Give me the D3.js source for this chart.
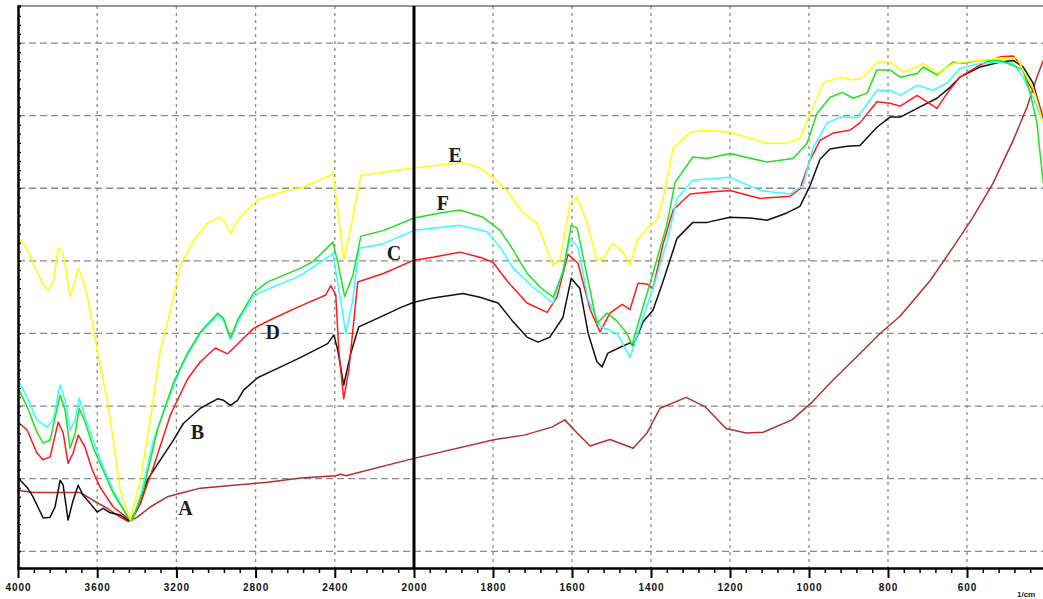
<!DOCTYPE html>
<html>
<head>
<meta charset="utf-8">
<script src="https://cdn.jsdelivr.net/npm/d3@7"></script>
<style>
  html, body { margin: 0; padding: 0; background: #fff; }
  svg { display: block; }
</style>
</head>
<body>
<div id="chart"></div>
<script>
'use strict';

// wavenumber (1/cm) vs transmittance
var seriesA = [[4000,18.4],[3924,18.1],[3838,18.1],[3752,18.1],[3686,18.1],[3620,17.0],[3549,15.9],[3484,14.7],[3443,14.1],[3397,14.7],[3332,16.1],[3246,17.5],[3165,18.1],[3079,18.7],[2911,19.1],[2739,19.5],[2572,20.1],[2395,20.4],[2370,20.6],[2344,20.4],[2000,22.8],[1795,25.4],[1721,26.0],[1651,27.1],[1618,28.1],[1587,26.3],[1554,24.5],[1504,25.4],[1445,24.2],[1410,26.3],[1377,29.7],[1311,31.2],[1263,29.9],[1210,26.9],[1159,26.3],[1116,26.4],[1043,28.1],[995,30.4],[939,33.6],[888,36.3],[820,40.0],[769,42.4],[693,47.3],[635,51.9],[585,56.0],[534,60.7],[483,66.6],[448,71.2],[423,75.3],[407,77.6]]

var seriesB = [[4000,20.1],[3954,18.8],[3924,17.5],[3873,14.6],[3838,14.7],[3813,16.1],[3787,19.8],[3772,19.1],[3747,14.3],[3722,17.0],[3696,19.1],[3671,17.7],[3635,16.6],[3600,15.4],[3570,15.9],[3534,15.3],[3484,15.0],[3443,14.3],[3418,14.7],[3382,16.6],[3347,19.8],[3281,22.6],[3215,25.3],[3165,27.6],[3079,29.7],[2992,31.0],[2962,30.8],[2927,30.1],[2891,30.8],[2861,32.2],[2790,33.9],[2689,35.2],[2572,36.7],[2436,38.6],[2405,39.8],[2385,37.7],[2355,32.9],[2319,37.3],[2279,40.9],[2152,42.5],[2066,43.6],[2000,44.3],[1952,44.9],[1876,45.5],[1833,45.0],[1787,44.2],[1749,41.6],[1714,39.5],[1686,38.8],[1656,39.5],[1623,42.2],[1602,47.6],[1580,46.2],[1559,40.0],[1537,36.1],[1524,35.4],[1509,37.3],[1478,38.1],[1453,38.7],[1445,38.3],[1420,41.6],[1395,43.2],[1370,47.1],[1334,53.1],[1294,55.3],[1258,55.3],[1200,56.0],[1149,55.9],[1106,55.6],[1056,56.6],[1023,57.5],[997,60.4],[972,64.0],[947,65.4],[904,65.8],[871,65.9],[828,68.4],[795,69.8],[769,69.8],[719,71.2],[676,72.4],[643,73.9],[618,75.3],[567,76.7],[516,77.4],[483,77.6],[458,76.7],[433,74.5],[407,69.4]]

var seriesC = [[4000,33.6],[3954,31.2],[3904,28.1],[3853,27.1],[3823,28.1],[3787,32.9],[3762,30.8],[3737,26.7],[3711,28.1],[3691,31.1],[3661,28.5],[3620,25.3],[3585,22.6],[3519,18.4],[3443,14.7],[3423,14.3],[3382,17.5],[3316,25.3],[3246,30.6],[3165,36.0],[3079,40.0],[2992,42.5],[2962,41.8],[2927,39.1],[2886,41.8],[2810,45.1],[2790,45.5],[2572,48.0],[2420,50.8],[2410,51.1],[2385,46.9],[2344,40.0],[2309,44.6],[2279,51.7],[2152,52.4],[2000,54.2],[1884,54.9],[1815,54.0],[1782,51.9],[1749,49.0],[1699,46.4],[1648,44.2],[1623,48.7],[1605,53.0],[1585,51.9],[1559,44.6],[1529,41.0],[1486,40.0],[1453,36.7],[1428,40.9],[1395,46.2],[1359,52.8],[1334,58.6],[1294,61.1],[1200,61.5],[1124,59.7],[1048,59.2],[1015,60.4],[990,65.5],[954,69.0],[921,69.8],[878,69.7],[828,73.5],[795,73.5],[769,72.8],[726,74.2],[686,73.5],[650,74.5],[618,76.5],[567,77.2],[516,77.4],[483,77.2],[458,75.3],[433,72.5],[407,69.0]]

var seriesD = [[4000,27.8],[3954,26.7],[3904,23.5],[3873,22.6],[3838,23.0],[3797,27.8],[3772,26.3],[3747,22.1],[3722,23.5],[3696,26.0],[3661,24.3],[3625,21.2],[3585,18.8],[3519,16.1],[3433,14.3],[3382,16.6],[3316,21.6],[3230,28.8],[3144,33.7],[3079,36.1],[3003,38.0],[2942,37.2],[2911,38.0],[2810,40.7],[2709,42.1],[2572,43.8],[2446,45.3],[2420,46.6],[2395,45.3],[2380,37.7],[2355,31.0],[2329,35.0],[2284,47.1],[2152,48.3],[2000,50.1],[1952,50.5],[1884,51.2],[1833,50.5],[1800,49.8],[1765,47.3],[1714,44.2],[1663,42.9],[1638,45.0],[1610,50.9],[1585,49.7],[1554,43.3],[1529,40.2],[1504,42.8],[1473,44.0],[1453,43.3],[1433,46.9],[1410,46.8],[1395,46.2],[1370,52.2],[1344,57.0],[1301,59.2],[1251,59.5],[1200,59.7],[1124,58.6],[1048,58.9],[1023,59.9],[997,63.9],[972,66.6],[939,67.6],[896,68.0],[871,69.0],[828,71.9],[795,71.7],[769,71.3],[726,72.8],[701,71.9],[676,71.0],[650,73.1],[618,75.3],[567,77.0],[516,78.1],[483,78.2],[466,77.2],[445,74.5],[423,72.5],[407,69.8]]

var seriesE = [[4000,53.3],[3954,51.7],[3924,49.7],[3873,46.7],[3848,46.0],[3823,46.9],[3797,51.7],[3772,51.1],[3737,45.1],[3711,47.3],[3696,49.0],[3671,47.3],[3646,44.6],[3620,40.7],[3585,35.6],[3549,30.8],[3519,25.3],[3484,18.4],[3433,14.3],[3382,19.8],[3332,28.1],[3281,37.7],[3230,43.2],[3180,49.4],[3114,52.8],[3043,55.2],[2987,56.0],[2962,55.6],[2927,53.8],[2891,55.6],[2841,57.0],[2790,58.4],[2724,59.0],[2638,59.7],[2572,60.0],[2420,61.8],[2410,62.2],[2385,57.0],[2355,50.1],[2319,54.6],[2268,61.8],[2152,62.2],[2000,62.8],[1934,63.2],[1876,63.5],[1833,62.8],[1800,61.5],[1765,59.7],[1724,56.6],[1689,55.2],[1648,49.4],[1630,50.1],[1605,57.9],[1587,58.8],[1562,55.2],[1537,50.1],[1521,50.4],[1496,52.4],[1471,51.2],[1453,49.4],[1435,52.8],[1410,54.5],[1385,55.6],[1370,58.4],[1344,65.5],[1301,67.7],[1268,68.0],[1200,67.7],[1106,66.2],[1056,66.2],[1023,66.9],[997,70.3],[964,74.5],[921,75.3],[888,74.9],[863,75.3],[828,77.4],[795,77.4],[762,76.0],[737,76.5],[711,77.2],[676,75.8],[635,77.2],[567,77.6],[516,77.9],[473,77.9],[458,76.3],[433,73.9],[407,69.0]]

var seriesF = [[4000,32.5],[3954,29.9],[3904,26.4],[3873,24.9],[3838,25.3],[3787,31.5],[3762,29.4],[3737,24.2],[3711,26.3],[3691,29.7],[3661,27.8],[3620,24.3],[3585,22.1],[3519,18.0],[3443,14.6],[3423,14.3],[3367,18.4],[3296,26.7],[3215,33.2],[3144,37.3],[3079,40.2],[2992,42.8],[2962,42.1],[2927,39.4],[2886,42.1],[2810,45.6],[2739,47.1],[2572,49.0],[2506,50.0],[2420,52.3],[2410,52.6],[2385,49.8],[2350,45.1],[2309,48.0],[2268,53.4],[2152,54.2],[2000,55.9],[1934,56.6],[1884,57.0],[1825,56.0],[1782,54.2],[1749,51.5],[1714,48.3],[1681,46.4],[1648,45.0],[1623,48.4],[1602,54.9],[1587,54.5],[1562,48.0],[1537,41.4],[1511,42.8],[1486,41.7],[1461,40.0],[1448,38.4],[1428,42.2],[1395,48.3],[1359,55.2],[1339,60.8],[1294,64.3],[1258,64.1],[1200,64.8],[1106,63.6],[1040,64.1],[1005,66.2],[980,70.3],[947,72.5],[916,73.2],[888,72.4],[853,73.1],[828,76.3],[795,76.3],[769,75.3],[726,75.8],[711,76.7],[676,75.6],[635,77.4],[610,77.2],[567,77.6],[516,77.6],[483,76.9],[458,76.3],[440,73.1],[423,69.0],[407,60.7]]

var seriesNames = ['A', 'B', 'C', 'D', 'E', 'F']
var seriesColors = ['#b3302c', '#111111', '#33ffff', '#ff1a1a', '#ffff00', '#22e022']
// label anchor [wavenumber, transmittance] for each letter
var labelPos = [[3154, 15.9], [3094, 26.4], [2101, 51.1], [2714, 40.2], [1896, 64.6], [1927, 57.9]]

var xMajorTicks = [4000, 3600, 3200, 2800, 2400, 2000, 1800, 1600, 1400, 1200, 1000, 800, 600]
var xGridValues = [3600, 3200, 2800, 2400, 1800, 1600, 1400, 1200, 1000, 800, 600]
var yGridValues = [10, 20, 30, 40, 50, 60, 70, 80]

var width = 1043, height = 599
var plot = {left: 18, top: 6, bottom: 568, right: 1043}

// axis is split at 2000: the low wavenumber half is drawn at double scale
var x = d3.scaleLinear()
  .domain([4000, 2000, 400])
  .range([plot.left, 414, 1046])

var y = d3.scaleLinear()
  .domain([7.7, 85.1])
  .range([plot.bottom, plot.top])

var svg = d3.select('#chart').append('svg')
  .attr('width', width)
  .attr('height', height)
  .style('font-family', 'Liberation Sans, Arial, sans-serif')

svg.append('defs').append('clipPath')
  .attr('id', 'plotclip')
  .append('rect')
    .attr('x', plot.left)
    .attr('y', plot.top)
    .attr('width', plot.right - plot.left)
    .attr('height', plot.bottom - plot.top)

// Grid
svg.append('g')
  .selectAll('line')
  .data(yGridValues)
  .enter().append('line')
    .attr('x1', plot.left)
    .attr('x2', plot.right)
    .attr('y1', function(d) { return y(d) })
    .attr('y2', function(d) { return y(d) })
    .attr('stroke', '#8a8a8a')
    .attr('stroke-width', 1.3)
    .attr('stroke-dasharray', '7,4')

svg.append('g')
  .selectAll('line')
  .data(xGridValues)
  .enter().append('line')
    .attr('x1', function(d) { return x(d) })
    .attr('x2', function(d) { return x(d) })
    .attr('y1', plot.top)
    .attr('y2', plot.bottom)
    .attr('stroke', '#8a8a8a')
    .attr('stroke-width', 1.3)
    .attr('stroke-dasharray', '3,4')

// Curves
var line = d3.line()
  .x(function(d) { return x(d[0]) })
  .y(function(d) { return y(d[1]) })

var allSeries = [seriesA, seriesB, seriesD, seriesC, seriesF, seriesE]
var drawColors = [seriesColors[0], seriesColors[1], seriesColors[3], seriesColors[2], seriesColors[5], seriesColors[4]]

svg.append('g')
  .attr('clip-path', 'url(#plotclip)')
  .selectAll('path')
  .data(allSeries)
  .enter().append('path')
    .attr('d', line)
    .attr('fill', 'none')
    .attr('stroke', function(d, i) { return drawColors[i] })
    .attr('stroke-width', 1.5)
    .attr('stroke-linejoin', 'round')

// Frame: top border, left axis, separator at 2000
svg.append('line')
  .attr('x1', plot.left).attr('x2', plot.right)
  .attr('y1', plot.top).attr('y2', plot.top)
  .attr('stroke', '#333').attr('stroke-width', 1.2)

svg.append('line')
  .attr('x1', x(2000)).attr('x2', x(2000))
  .attr('y1', plot.top).attr('y2', plot.bottom)
  .attr('stroke', '#000').attr('stroke-width', 3)

var yAxis = d3.axisRight(y)
  .tickValues(d3.range(10, 85, 1.25))
  .tickSize(3)
  .tickFormat('')

svg.append('g')
  .attr('transform', 'translate(' + plot.left + ',0)')
  .call(yAxis)
  .call(function(g) {
    g.select('.domain').attr('stroke', '#000').attr('stroke-width', 2.5)
    g.selectAll('.tick line').attr('stroke', '#000').attr('stroke-width', 1.2)
  })

// Bottom axis: minor ticks, then major ticks with labels
var minorTicks = d3.range(4000, 2000, -80).concat(d3.range(2000, 400, -40))
  .filter(function(d) { return xMajorTicks.indexOf(d) < 0 })

svg.append('g')
  .attr('transform', 'translate(0,' + plot.bottom + ')')
  .call(d3.axisBottom(x).tickValues(minorTicks).tickSize(5).tickFormat(''))
  .call(function(g) {
    g.select('.domain').remove()
    g.selectAll('.tick line').attr('stroke', '#000').attr('stroke-width', 1.5)
  })

var xAxis = d3.axisBottom(x)
  .tickValues(xMajorTicks)
  .tickSize(10)
  .tickSizeOuter(0)
  .tickPadding(6)
  .tickFormat(function(d) { return d })

svg.append('g')
  .attr('transform', 'translate(0,' + plot.bottom + ')')
  .call(xAxis)
  .call(function(g) {
    g.select('.domain').attr('stroke', '#000').attr('stroke-width', 2.5)
    g.selectAll('.tick line').attr('stroke', '#000').attr('stroke-width', 2)
    g.selectAll('.tick text')
      .attr('fill', '#111')
      .style('font-size', '10px')
      .style('font-weight', 'bold')
      .style('letter-spacing', '1px')
      .style('font-family', 'Liberation Sans, Arial, sans-serif')
  })

svg.append('text')
  .attr('x', 1017)
  .attr('y', 597)
  .style('font-size', '8px')
  .style('font-weight', 'bold')
  .attr('fill', '#222')
  .text('1/cm')

// Curve letters
svg.append('g')
  .selectAll('text')
  .data(seriesNames)
  .enter().append('text')
    .attr('x', function(d, i) { return x(labelPos[i][0]) })
    .attr('y', function(d, i) { return y(labelPos[i][1]) })
    .attr('text-anchor', 'middle')
    .attr('dominant-baseline', 'central')
    .style('font-family', 'Liberation Serif, Times New Roman, serif')
    .style('font-weight', 'bold')
    .style('font-size', '20px')
    .attr('fill', '#1c1c24')
    .text(function(d) { return d })
</script>
</body>
</html>
